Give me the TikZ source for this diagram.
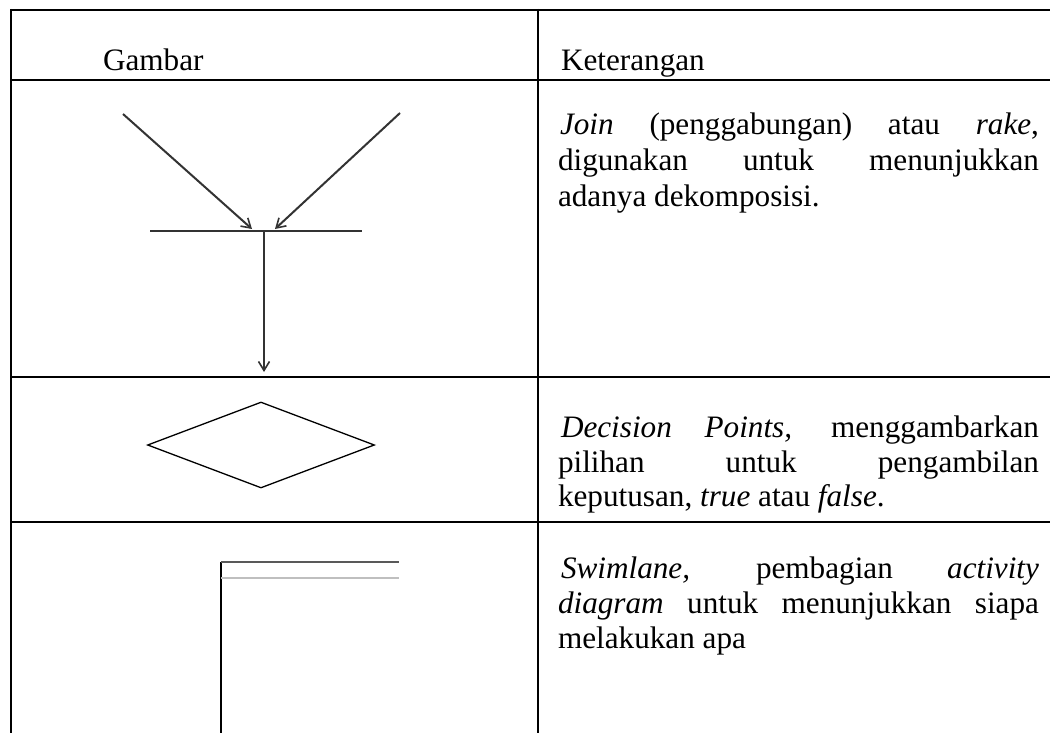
\documentclass[tikz,border=0pt]{standalone}
\usepackage{fontspec}
\setmainfont{Liberation Serif}
\usetikzlibrary{arrows.meta,shapes.geometric}
\tikzset{
  border/.style={line width=2.2pt, black},
  thinborder/.style={line width=1.1pt, black},
  txt/.style={anchor=base west, inner sep=0pt, outer sep=0pt, font=\fontsize{31.2}{35.5}\selectfont},
  joinline/.style={line width=2pt, black!80},
  joinarrow/.style={joinline, -{Straight Barb[length=9pt,width=11pt,line width=1.6pt]}},
  dia/.style={draw, diamond, line width=1.3pt, minimum width=227pt, minimum height=86pt, inner sep=0pt},
}
\newcommand{\jline}[1]{\makebox[481pt][s]{#1}}
\begin{document}
\begin{tikzpicture}[x=1pt,y=-1pt]
\useasboundingbox (0,0) rectangle (1050,733);
\fill[white] (0,0) rectangle (1050,733);
% table
\draw[border] (11,10) -- (1050,10);
\draw[border] (11,80) -- (1050,80);
\draw[border] (11,377) -- (105,377);
\draw[thinborder] (105,377) -- (405,377);
\draw[border] (405,377) -- (1050,377);
\draw[border] (11,522) -- (1050,522);
\draw[border] (11,8.9) -- (11,733);
\draw[border] (538,8.9) -- (538,733);
% header
\node[txt] (hg) at (103,71) {Gambar};
\node[txt] (hk) at (561,71) {Keterangan};
% row 1 text
\node[txt] (j1) at (558,135) {\jline{\hspace*{2pt}\textit{Join} (penggabungan) atau \textit{rake},}};
\node[txt] (j2) at (558,171) {\jline{digunakan untuk menunjukkan}};
\node[txt] (j3) at (558,207) {adanya dekomposisi.};
% row 2 text
\node[txt] (d1) at (558,437) {\jline{\hspace*{3pt}\textit{Decision Points,} menggambarkan}};
\node[txt] (d2) at (558,472) {\jline{pilihan untuk pengambilan}};
\node[txt] (d3) at (558,506) {keputusan, \textit{true} atau \textit{false}.};
% row 3 text
\node[txt] (s1) at (558,578) {\jline{\hspace*{3pt}\textit{Swimlane,} pembagian \textit{activity}}};
\node[txt] (s2) at (558,613) {\jline{\textit{diagram} untuk menunjukkan siapa}};
\node[txt] (s3) at (558,648) {melakukan apa};
% join symbol
\coordinate (la) at (123,114);
\coordinate (ra) at (400,113);
\coordinate (lt) at (252,229);
\coordinate (rt) at (275,229);
\coordinate (bl) at (150,231);
\coordinate (br) at (362,231);
\coordinate (bm) at (264,231);
\coordinate (dt) at (264,372);
\draw[joinarrow] (la) -- (lt);
\draw[joinarrow] (ra) -- (rt);
\draw[joinline] (bl) -- (br);
\draw[joinarrow] (bm) -- (dt);
% decision
\node[dia] (dec) at (261,445) {};
% swimlane
\coordinate (sw0) at (221,562);
\coordinate (sw1) at (399,562);
\coordinate (sw2) at (221,578);
\coordinate (sw3) at (399,578);
\coordinate (swb) at (221,733);
\draw[line width=1.4pt, black] (sw0) -- (swb);
\draw[line width=2.2pt, black!65] (sw0) -- (sw1);
\draw[line width=1.6pt, black!25] (sw2) -- (sw3);
\end{tikzpicture}
\end{document}
